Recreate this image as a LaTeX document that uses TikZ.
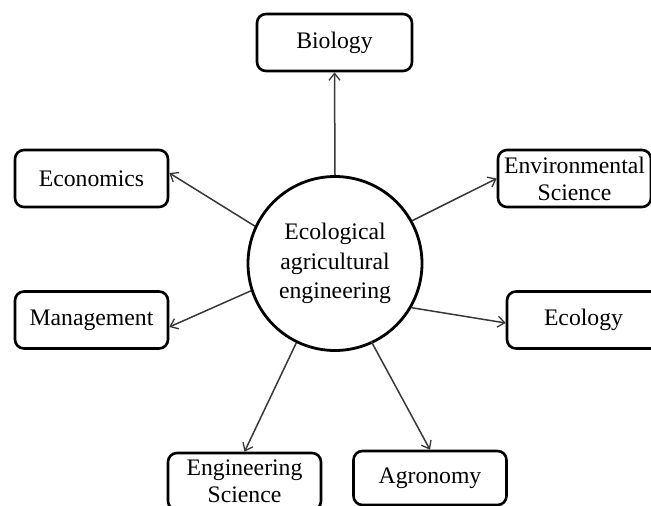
\documentclass[tikz,border=0pt]{standalone}
\usepackage{fontspec}
\setmainfont{Liberation Serif}
\usetikzlibrary{arrows.meta,calc}
\begin{document}
\begin{tikzpicture}[x=1pt,y=-1pt,
  topic/.style={draw=black, line width=2.6pt, rounded corners=9pt, fill=white,
    minimum width=153pt, minimum height=57pt, inner sep=0pt, align=center,
    font=\fontsize{23.7}{27}\selectfont},
  hub/.style={draw=black, line width=2.8pt, circle, minimum size=174pt, inner sep=0pt,
    align=center, font=\fontsize{23.7}{29.5}\selectfont},
  link/.style={draw=black!78, line width=1.5pt,
    -{Straight Barb[length=7pt,width=11pt,line width=1.3pt]}}]
\useasboundingbox (0,0) rectangle (651,506);
\clip (0,0) rectangle (651,506);
\fill[white] (0,0) rectangle (651,506);

% central discipline
\node[hub] (c) at (335,263.5) {Ecological\\agricultural\\engineering};

% related disciplines
\node[topic, minimum width=155pt] (bio) at (334.5,42.5) {Biology};
\node[topic] (econ) at (91.5,178.5) {Economics};
\node[topic] (env)  at (574.5,178.5) {Environmental\\Science};
\node[topic] (mgmt) at (91.5,320) {Management};
\node[topic] (ecol) at (583.5,320) {Ecology};
\node[topic] (eng)  at (244.5,481.5) {Engineering\\Science};
\node[topic, minimum height=54pt] (agro) at (430,478) {Agronomy};

% connectors from the hub
\draw[link] (c.90) -- (bio.south);
\draw[link] (c.155) -- ($(econ.east)+(0,-5.5)$);
\draw[link] (c.29.5) -- (env.west);
\draw[link] (c.198) -- ($(mgmt.east)+(0,7)$);
\draw[link] (c.-30) -- ($(ecol.west)+(0,3)$);
\draw[link] (c.244) -- (eng.north);
\draw[link] ($(c.293.5)+(293.5:4)$) -- (agro.north);
\end{tikzpicture}
\end{document}
